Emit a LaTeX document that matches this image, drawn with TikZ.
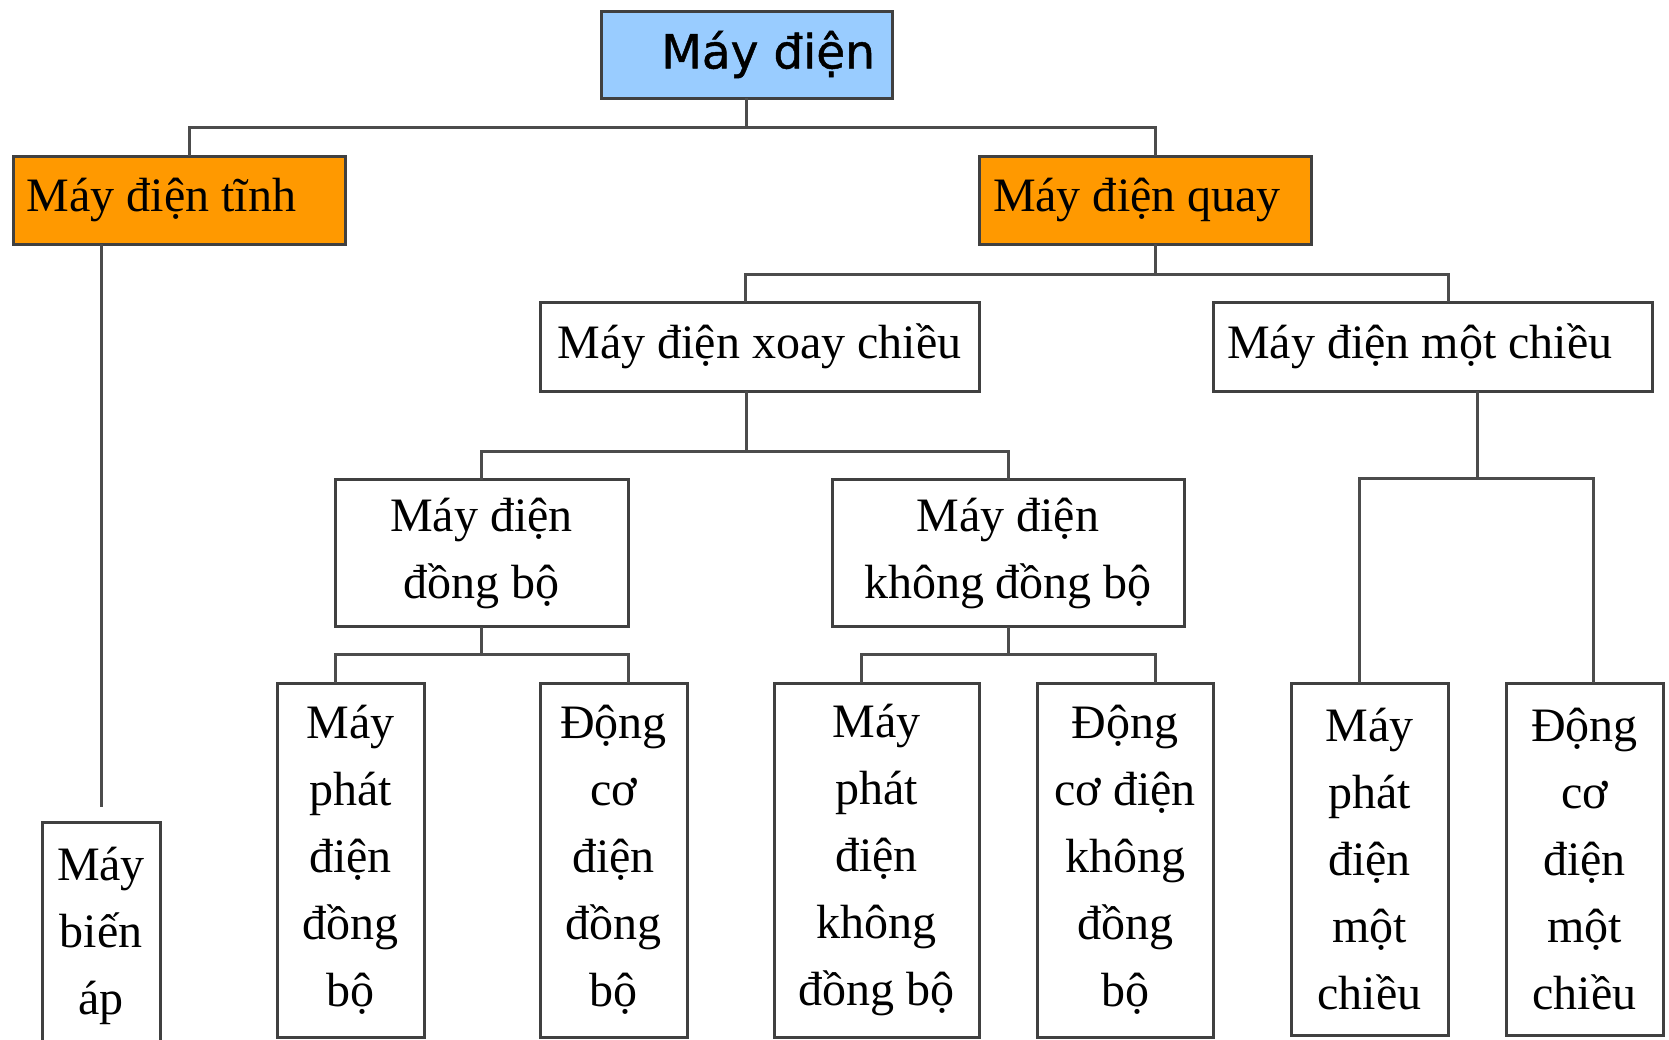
\documentclass[tikz,border=0pt]{standalone}
\usepackage{fontspec}
\setmainfont{Liberation Serif}
\newfontfamily\rootfont[FakeBold=1]{DejaVu Sans}
\definecolor{rootblue}{HTML}{99CCFF}
\definecolor{headorange}{HTML}{FF9900}
\begin{document}
\begin{tikzpicture}[x=1pt, y=-1pt,
  every node/.style={font=\fontsize{48}{67}\selectfont},
  box/.style={draw=black!75, line width=3pt, inner sep=0pt, outer sep=0pt},
  head/.style={box, inner xsep=14pt, text width=#1, align=flush left},
  leaf/.style={box, align=center},
  link/.style={draw=black!70, line width=3pt}]
\useasboundingbox (0,0) rectangle (1669,1039);
\node[box, fill=rootblue, minimum height=87pt, inner xsep=17pt, text width=257pt, align=flush right, font=\rootfont\fontsize{47}{56}\selectfont] (root) at (746.5,54.5) {Máy điện};
\node[head=304pt, fill=headorange, minimum height=88pt] (tinh) at (179,200) {Máy điện tĩnh};
\node[head=304pt, fill=headorange, minimum height=88pt] (quay) at (1145,200) {Máy điện quay};
\node[box, minimum width=439pt, minimum height=89pt] (xoay) at (759.5,346.5) {Máy điện xoay chiều};
\node[head=411pt, minimum height=89pt] (motchieu) at (1432.5,346.5) {Máy điện một chiều};

\node[leaf, minimum width=293pt, minimum height=147pt] (dongbo) at (481.5,553) {Máy điện\\đồng bộ};
\node[leaf, minimum width=352pt, minimum height=147pt] (khongdb) at (1008,553) {Máy điện\\không đồng bộ};

\node[leaf, minimum width=118pt, minimum height=228pt] (bienap) at (101,936) {Máy\\biến\\áp};
\node[leaf, minimum width=147pt, minimum height=354pt] (phatdb) at (350.5,860) {Máy\\phát\\điện\\đồng\\bộ};
\node[leaf, minimum width=147pt, minimum height=354pt] (dcdb) at (613.5,860) {Động\\cơ\\điện\\đồng\\bộ};
\node[leaf, minimum width=205pt, minimum height=354pt] (phatkdb) at (876.5,860) {Máy\\phát\\điện\\không\\đồng bộ};
\node[leaf, minimum width=176pt, minimum height=354pt] (dckdb) at (1125,860) {Động\\cơ điện\\không\\đồng\\bộ};
\node[leaf, minimum width=157pt, minimum height=352pt] (phatmc) at (1369.5,859) {Máy\\phát\\điện\\một\\chiều};
\node[leaf, minimum width=157pt, minimum height=352pt] (dcmc) at (1584.5,859) {Động\\cơ\\điện\\một\\chiều};

\draw[link] (root.south) -- ++(0,29);
\draw[link] ([xshift=10pt]tinh.north) -- ++(0,-29) -| ([xshift=10pt]quay.north);
\draw[link] (tinh.south -| bienap.north) -- ([yshift=15pt]bienap.north);
\draw[link] ([xshift=10pt]quay.south) -- ++(0,30);
\draw[link] ([xshift=-14pt]xoay.north) -- ++(0,-28) -| ([xshift=16pt]motchieu.north);
\draw[link] ([xshift=-13pt]xoay.south) -- ++(0,59);
\draw[link] (dongbo.north) -- ++(0,-28) -| (khongdb.north);
\draw[link] (dongbo.south) -- ++(0,29);
\draw[link] ([xshift=-15pt]phatdb.north) -- ++(0,-29) -| ([xshift=15pt]dcdb.north);
\draw[link] (khongdb.south) -- ++(0,29);
\draw[link] ([xshift=-15pt]phatkdb.north) -- ++(0,-29) -| ([xshift=30pt]dckdb.north);
\draw[link] ([xshift=45pt]motchieu.south) -- ++(0,87);
\draw[link] ([xshift=-10pt]phatmc.north) -- ++(0,-205) -| ([xshift=9pt]dcmc.north);
\end{tikzpicture}
\end{document}
